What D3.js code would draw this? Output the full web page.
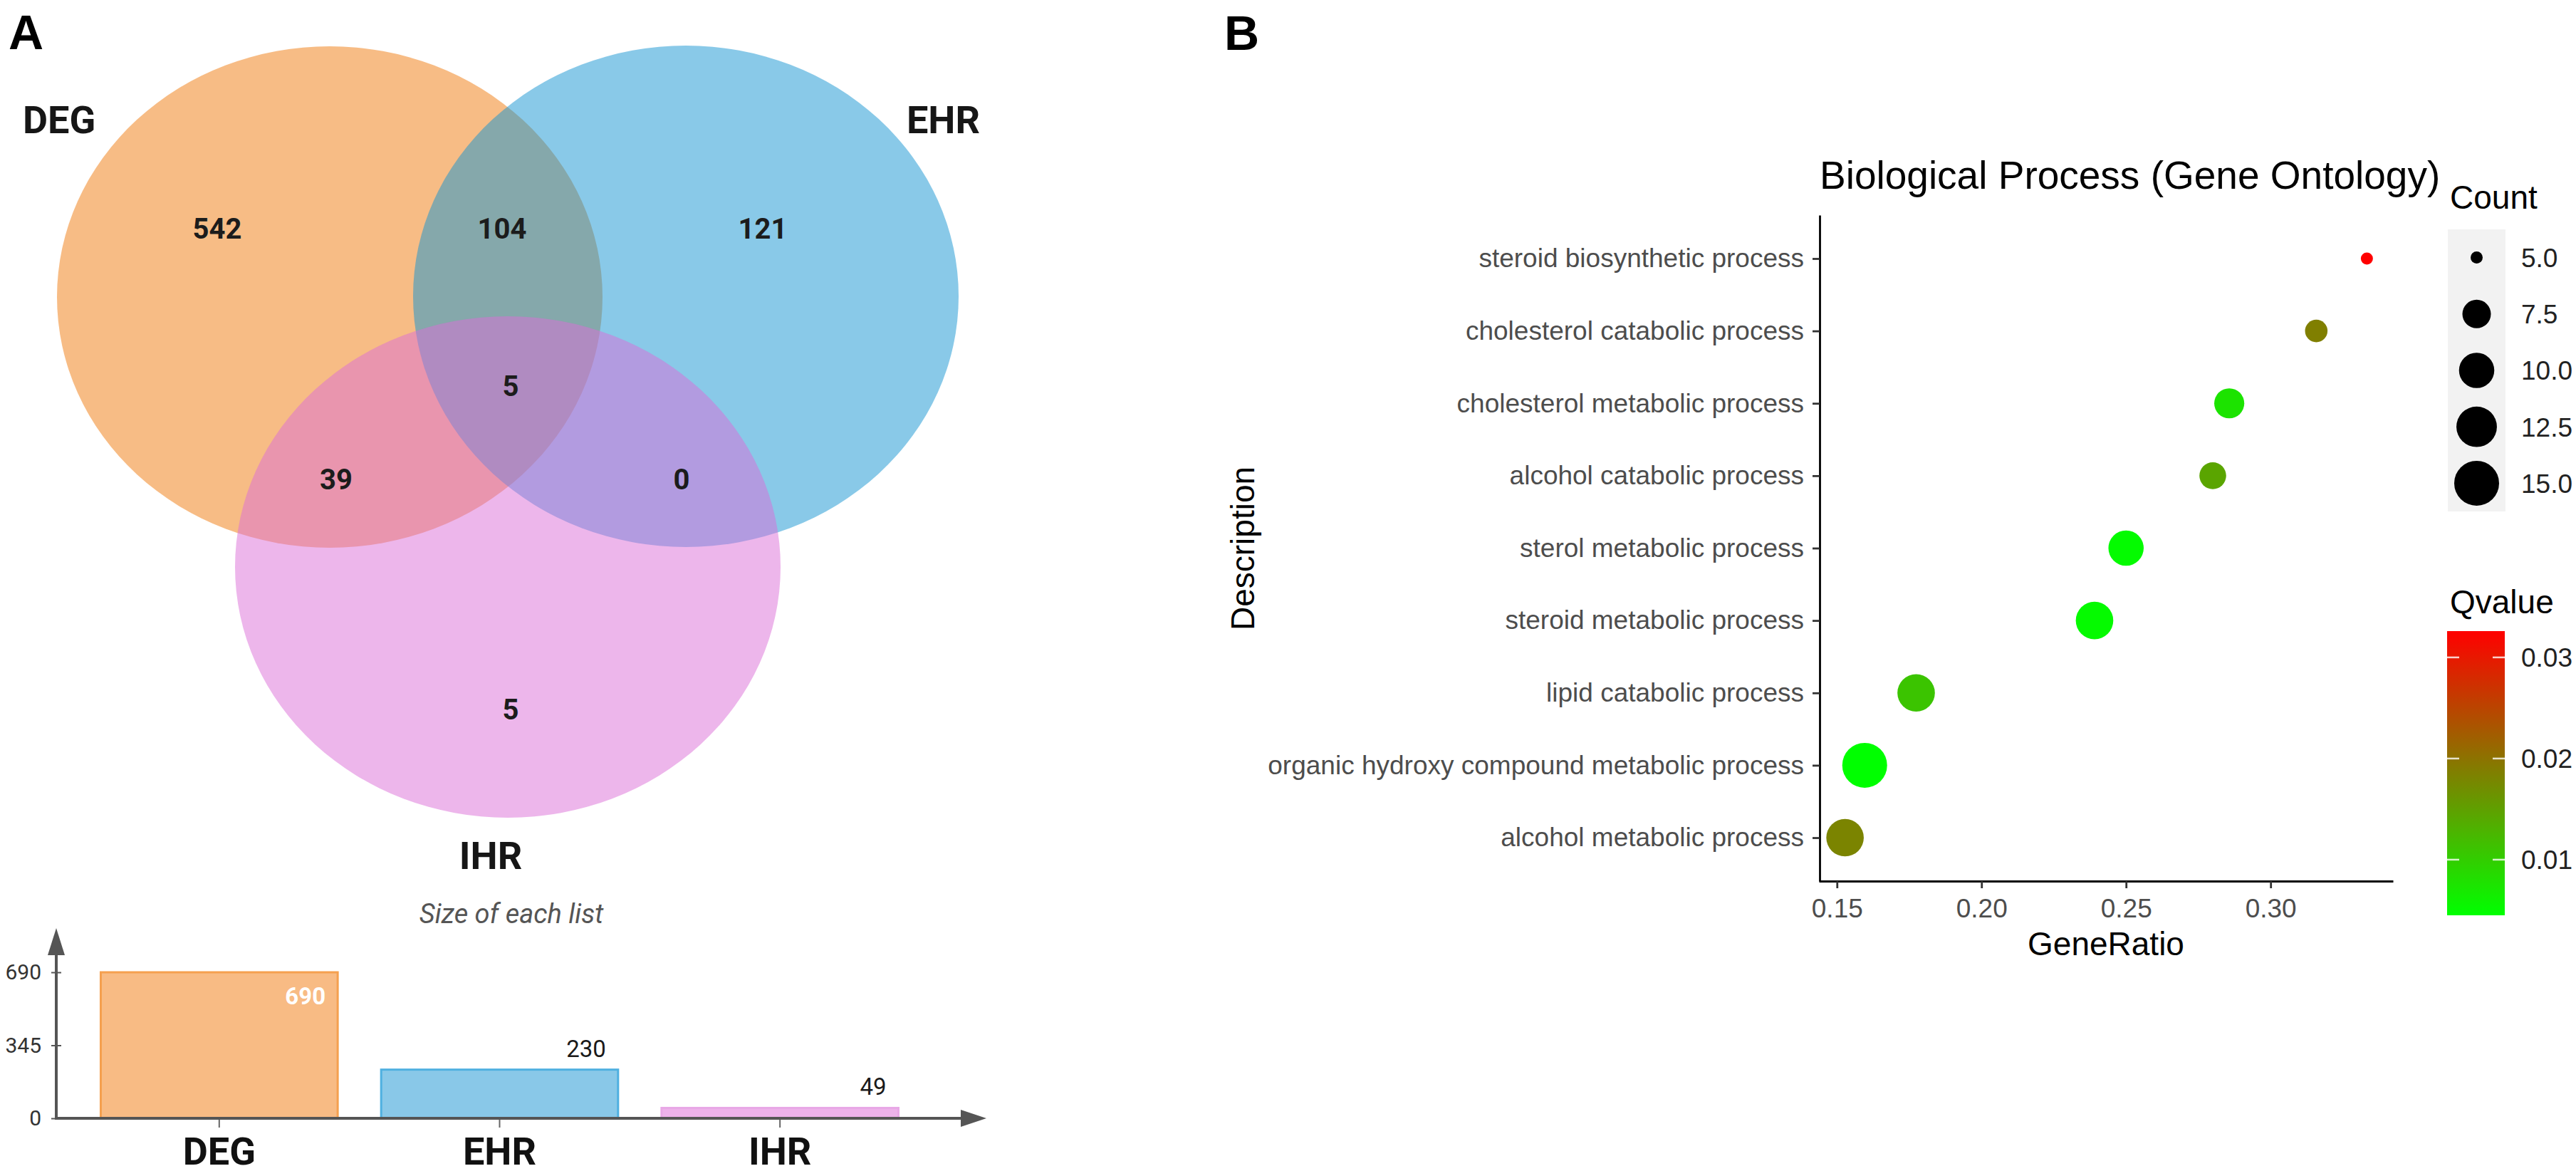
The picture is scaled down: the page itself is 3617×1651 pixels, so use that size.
<!DOCTYPE html>
<html>
<head>
<meta charset="utf-8">
<script src="https://cdn.jsdelivr.net/npm/d3@7"></script>
<style>
body { margin: 0; background: #fff; }
</style>
</head>
<body>
<div id="chart"></div>
<script>
// ---- Panel A data: venn + list sizes
var setNames = ["DEG", "EHR", "IHR"]
var setSizes = [690, 230, 49]
var vennRegions = ["DEG", "EHR", "DEG&EHR", "DEG&EHR&IHR", "DEG&IHR", "EHR&IHR", "IHR"]
var vennCounts = [542, 121, 104, 5, 39, 0, 5]
var sizeTicks = [0, 345, 690]

// ---- Panel B data: GO biological process dot plot (top row first)
var goTerms = [
    "steroid biosynthetic process",
    "cholesterol catabolic process",
    "cholesterol metabolic process",
    "alcohol catabolic process",
    "sterol metabolic process",
    "steroid metabolic process",
    "lipid catabolic process",
    "organic hydroxy compound metabolic process",
    "alcohol metabolic process"
]
var geneRatio = [0.3333, 0.3158, 0.2857, 0.2800, 0.2500, 0.2391, 0.1774, 0.1596, 0.1528]
var geneCount = [5, 6, 8, 7, 10, 11, 11, 15, 11]
var qValue = [0.0326, 0.0186, 0.0076, 0.0144, 0.0049, 0.0050, 0.0110, 0.0045, 0.0180]
var ratioTicks = [0.15, 0.20, 0.25, 0.30]
var countBreaks = [5, 7.5, 10, 12.5, 15]
var qBreaks = [0.01, 0.02, 0.03]

// ---- layout (not data)
var W = 3617, H = 1651
var vennColors = ["#EF790B", "#1393D1", "#DB6DD7"]
var venn = { rx: 383, ry: 352, centers: [[463, 417], [963, 416], [713, 796]] }
// label offsets for each region, relative to the DEG centre
var vennLabelOffset = [[-158, -96], [608, -96], [242, -96], [254, 125], [9, 256], [494, 256], [254, 579]]
var barFill = ["#F8BB84", "#89C8E8", "#EDB2EA"]
var barStroke = ["#F5A04F", "#4FB0E0", "#E8A8E6"]
var sansA = "Roboto, 'Liberation Sans', sans-serif"
var sansB = "'Liberation Sans', Arial, sans-serif"

var svg = d3.select("#chart").append("svg")
    .attr("width", W).attr("height", H)
svg.append("rect").attr("width", W).attr("height", H).attr("fill", "#fff")

// panel letters
svg.append("text").attr("x", 12).attr("y", 69).text("A")
    .attr("font-family", sansB).attr("font-weight", "bold").attr("font-size", 68)
svg.append("text").attr("x", 1719).attr("y", 70).text("B")
    .attr("font-family", sansB).attr("font-weight", "bold").attr("font-size", 68)

/**
 * Venn diagram of the three lists
 */
function drawVenn() {
    var g = svg.append("g")
    g.selectAll("ellipse").data(setNames).join("ellipse")
        .attr("cx", function(d, i) { return venn.centers[i][0] })
        .attr("cy", function(d, i) { return venn.centers[i][1] })
        .attr("rx", venn.rx)
        .attr("ry", venn.ry)
        .attr("fill", function(d, i) { return vennColors[i] })
        .attr("fill-opacity", 0.5)

    var c0 = venn.centers[0]
    g.selectAll("text.count").data(vennCounts).join("text")
        .attr("class", "count")
        .attr("x", function(d, i) { return c0[0] + vennLabelOffset[i][0] })
        .attr("y", function(d, i) { return c0[1] + vennLabelOffset[i][1] })
        .attr("dy", "0.36em")
        .attr("text-anchor", "middle")
        .attr("font-family", sansA).attr("font-weight", "bold").attr("font-size", 40)
        .attr("fill", "#1c1c1c")
        .text(function(d) { return d })

    // set names
    var nameStyle = function(sel) {
        sel.attr("font-family", sansA).attr("font-weight", "bold")
            .attr("font-size", 54).attr("fill", "#161616")
    }
    g.append("text").attr("x", 32).attr("y", 187).text(setNames[0]).call(nameStyle)
    g.append("text").attr("x", 1376).attr("y", 187).attr("text-anchor", "end").text(setNames[1]).call(nameStyle)
    g.append("text").attr("x", 689).attr("y", 1220).attr("text-anchor", "middle").text(setNames[2]).call(nameStyle)
}

/**
 * Bar chart with the size of each list
 */
function drawSizes() {
    var g = svg.append("g")
    var x = d3.scaleBand().domain(setNames).range([110, 1293]).paddingInner(0.155).paddingOuter(0.08)
    var y = d3.scaleLinear().domain([0, d3.max(setSizes)]).range([1570, 1365])

    g.append("text").attr("x", 718).attr("y", 1296).attr("text-anchor", "middle")
        .attr("font-family", sansA).attr("font-style", "italic").attr("font-size", 38)
        .attr("fill", "#555").text("Size of each list")

    g.selectAll("rect.bar").data(setSizes).join("rect")
        .attr("class", "bar")
        .attr("x", function(d, i) { return x(setNames[i]) })
        .attr("y", function(d) { return y(d) })
        .attr("width", x.bandwidth())
        .attr("height", function(d) { return y(0) - y(d) })
        .attr("fill", function(d, i) { return barFill[i] })
        .attr("stroke", function(d, i) { return barStroke[i] })
        .attr("stroke-width", 3)

    var maxSize = d3.max(setSizes)
    g.selectAll("text.val").data(setSizes).join("text")
        .attr("class", "val")
        .attr("x", function(d, i) { return x(setNames[i]) + x.bandwidth() - 17 })
        .attr("y", function(d) { return d === maxSize ? y(d) + 45 : y(d) - 18 })
        .attr("text-anchor", "end")
        .attr("font-family", sansA).attr("font-size", 33)
        .attr("font-weight", function(d) { return d === maxSize ? "bold" : "normal" })
        .attr("fill", function(d) { return d === maxSize ? "#fff" : "#1a1a1a" })
        .text(function(d) { return d })

    // y axis with arrow
    var yAxis = g.append("g").attr("transform", "translate(79,0)")
        .call(d3.axisLeft(y).tickValues(sizeTicks).tickSize(7).tickPadding(14))
    yAxis.select(".domain").remove()
    yAxis.selectAll(".tick line").attr("x1", 7).attr("stroke", "#555").attr("stroke-width", 2)
    yAxis.selectAll(".tick text").attr("font-family", sansA).attr("font-size", 30).attr("fill", "#333")

    var x0 = 79, yTop = 1303, xEnd = 1385
    g.append("line").attr("x1", x0).attr("x2", x0).attr("y1", y(0)).attr("y2", yTop + 30)
        .attr("stroke", "#555").attr("stroke-width", 4)
    g.append("path").attr("d", d3.line()([[x0 - 12, yTop + 38], [x0, yTop], [x0 + 12, yTop + 38]]) + "Z")
        .attr("fill", "#555")

    var xAxis = g.append("g").attr("transform", "translate(0," + y(0) + ")")
        .call(d3.axisBottom(x).tickSize(13).tickPadding(14))
    xAxis.select(".domain").remove()
    xAxis.selectAll(".tick line").attr("stroke", "#666").attr("stroke-width", 2)
    xAxis.selectAll(".tick text").attr("font-family", sansA).attr("font-weight", "bold")
        .attr("font-size", 54).attr("fill", "#111")
    g.append("line").attr("x1", x0 - 2).attr("x2", xEnd - 30).attr("y1", y(0)).attr("y2", y(0))
        .attr("stroke", "#555").attr("stroke-width", 4)
    g.append("path").attr("d", d3.line()([[xEnd - 36, y(0) - 12], [xEnd, y(0)], [xEnd - 36, y(0) + 12]]) + "Z")
        .attr("fill", "#555")
}

/**
 * GO enrichment dot plot with size and colour legends
 */
function drawDots() {
    var g = svg.append("g")
    var ext = d3.extent(geneRatio)
    var pad = (ext[1] - ext[0]) * 0.05
    var x = d3.scaleLinear().domain([ext[0] - pad, ext[1] + pad]).range([2554, 3360])
    var y = d3.scalePoint().domain(goTerms).range([302, 1237]).padding(0.6)

    var cMin = d3.min(countBreaks), cMax = d3.max(countBreaks)
    var rNorm = d3.scaleLinear().domain([cMin, cMax]).range([0, 1]).clamp(true)
    var rOut = d3.scaleLinear().domain([0, 1]).range([8.5, 31.5])
    var r = function(c) { return rOut(Math.sqrt(rNorm(c))) }

    var qMin = d3.min(qValue), qMax = d3.max(qValue)
    var color = d3.scaleLinear().domain([qMin, qMax]).range(["#00ff00", "#ff0000"])
        .interpolate(d3.interpolateRgb)

    var fontAxis = function(sel) {
        sel.attr("font-family", sansB).attr("font-size", 37).attr("fill", "#4D4D4D")
    }

    // axes
    var yAxis = g.append("g").attr("transform", "translate(2555,0)")
        .call(d3.axisLeft(y).tickSize(10).tickSizeOuter(0).tickPadding(12))
    yAxis.select(".domain").attr("stroke", "#000").attr("stroke-width", 2.8)
    yAxis.selectAll(".tick line").attr("stroke", "#333").attr("stroke-width", 2.8)
    yAxis.selectAll(".tick text").call(fontAxis)

    var xAxis = g.append("g").attr("transform", "translate(0,1237)")
        .call(d3.axisBottom(x).tickValues(ratioTicks).tickFormat(d3.format(".2f"))
            .tickSize(10).tickSizeOuter(0).tickPadding(15))
    xAxis.select(".domain").attr("stroke", "#000").attr("stroke-width", 2.8)
    xAxis.selectAll(".tick line").attr("stroke", "#333").attr("stroke-width", 2.8)
    xAxis.selectAll(".tick text").call(fontAxis)

    // dots
    g.selectAll("circle.dot").data(goTerms).join("circle")
        .attr("class", "dot")
        .attr("cx", function(d, i) { return x(geneRatio[i]) })
        .attr("cy", function(d) { return y(d) })
        .attr("r", function(d, i) { return r(geneCount[i]) })
        .attr("fill", function(d, i) { return color(qValue[i]) })

    // titles
    g.append("text").attr("x", 2555).attr("y", 265).text("Biological Process (Gene Ontology)")
        .attr("font-family", sansB).attr("font-size", 55).attr("fill", "#000")
    g.append("text").attr("x", (2554 + 3360) / 2).attr("y", 1341).attr("text-anchor", "middle")
        .text("GeneRatio").attr("font-family", sansB).attr("font-size", 46).attr("fill", "#000")
    g.append("text").attr("transform", "translate(1761,770) rotate(-90)").attr("text-anchor", "middle")
        .text("Description").attr("font-family", sansB).attr("font-size", 46).attr("fill", "#000")

    // Count legend
    var lx = 3437, lw = 81
    g.append("text").attr("x", 3440).attr("y", 293).text("Count")
        .attr("font-family", sansB).attr("font-size", 46).attr("fill", "#000")
    var keyY = d3.scaleBand().domain(countBreaks).range([322, 718])
    g.append("rect").attr("x", lx).attr("y", 322).attr("width", lw).attr("height", 396).attr("fill", "#F2F2F2")
    g.selectAll("circle.key").data(countBreaks).join("circle")
        .attr("class", "key")
        .attr("cx", lx + lw / 2)
        .attr("cy", function(d) { return keyY(d) + keyY.bandwidth() / 2 })
        .attr("r", function(d) { return r(d) })
        .attr("fill", "#000")
    g.selectAll("text.key").data(countBreaks).join("text")
        .attr("class", "key")
        .attr("x", 3540)
        .attr("y", function(d) { return keyY(d) + keyY.bandwidth() / 2 })
        .attr("dy", "0.36em")
        .attr("font-family", sansB).attr("font-size", 37).attr("fill", "#222")
        .text(function(d) { return d3.format(".1f")(d) })

    // Qvalue colour bar
    g.append("text").attr("x", 3440).attr("y", 861).text("Qvalue")
        .attr("font-family", sansB).attr("font-size", 46).attr("fill", "#000")
    var cb = d3.scaleLinear().domain([qMin, qMax]).range([1285, 886])
    var grad = svg.append("defs").append("linearGradient").attr("id", "qgrad")
        .attr("x1", 0).attr("x2", 0).attr("y1", 1).attr("y2", 0)
    grad.selectAll("stop").data(d3.range(0, 1.0001, 0.1)).join("stop")
        .attr("offset", function(t) { return t })
        .attr("stop-color", function(t) { return color(qMin + t * (qMax - qMin)) })
    g.append("rect").attr("x", 3436).attr("y", cb(qMax)).attr("width", lw)
        .attr("height", cb(qMin) - cb(qMax)).attr("fill", "url(#qgrad)")
    qBreaks.forEach(function(q) {
        g.append("line").attr("x1", 3436).attr("x2", 3453).attr("y1", cb(q)).attr("y2", cb(q))
            .attr("stroke", "#fff").attr("stroke-width", 2.5).attr("stroke-opacity", 0.8)
        g.append("line").attr("x1", 3436 + lw - 17).attr("x2", 3436 + lw).attr("y1", cb(q)).attr("y2", cb(q))
            .attr("stroke", "#fff").attr("stroke-width", 2.5).attr("stroke-opacity", 0.8)
    })
    g.selectAll("text.qlab").data(qBreaks).join("text")
        .attr("class", "qlab")
        .attr("x", 3540)
        .attr("y", function(d) { return cb(d) })
        .attr("dy", "0.36em")
        .attr("font-family", sansB).attr("font-size", 37).attr("fill", "#222")
        .text(function(d) { return d3.format(".2f")(d) })
}

drawVenn()
drawSizes()
drawDots()
</script>
</body>
</html>
